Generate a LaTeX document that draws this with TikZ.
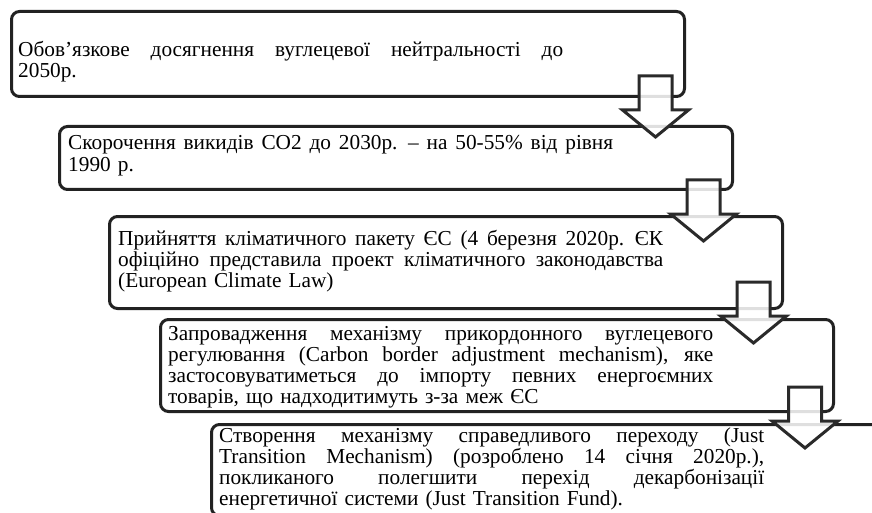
\documentclass[tikz,border=0pt]{standalone}
\usepackage{fontspec}
\setmainfont{Liberation Serif}
\newcommand\jl[1]{\leavevmode\hbox to 545pt{\spaceskip=\fontdimen2\font plus 1fil minus \fontdimen4\font\relax #1}}
\definecolor{boxc}{HTML}{222222}
\definecolor{arrc}{HTML}{2A2A2A}
\tikzset{
  stage/.style={draw=boxc, line width=3pt, rounded corners=8pt, anchor=north west,
    minimum width=673pt, inner sep=0pt},
  txt/.style={anchor=base west, inner sep=0pt, text width=545pt,
    font=\fontsize{21.3}{21}\selectfont},
  blockarrow/.style={draw=arrc, line width=3pt, fill=white, fill opacity=0.86,
    line join=miter},
}
\newcommand\downarrowshape[1]{%
  \draw[blockarrow] (#1) ++(-16.5,0) -- ++(0,34) -- ++(-16.5,0) -- ++(33,27)
    -- ++(33,-27) -- ++(-16.5,0) -- ++(0,-34) -- cycle;}
\begin{document}
\begin{tikzpicture}[x=1pt,y=-1pt]
\useasboundingbox (0,0) rectangle (872,513);
\fill[white] (0,0) rectangle (872,513);
\clip (0,0) rectangle (872,513);
% boxes
\node[stage, minimum height=85pt] (b1) at (10,10) {};
\node[stage, minimum height=63pt] (b2) at (58,125) {};
\node[stage, minimum height=92pt] (b3) at (108,215) {};
\node[stage, minimum height=92pt] (b4) at (159,318) {};
\node[stage, minimum height=91.2pt] (b5) at (210,423) {};
% texts
\node[txt] (t1) at (18,57) {\jl{Обов’язкове досягнення вуглецевої нейтральності до}\\2050р.};
\node[txt] (t2) at (68,150) {\jl{Скорочення викидів СО2 до 2030р. – на 50-55\% від рівня}\\1990 р.};
\node[txt] (t3) at (118,245) {\jl{Прийняття кліматичного пакету ЄС (4 березня 2020р. ЄК}\\
  \jl{офіційно представила проект кліматичного законодавства}\\(European Climate Law)};
\node[txt] (t4) at (168,340) {\jl{Запровадження механізму прикордонного вуглецевого}\\
  \jl{регулювання (Carbon border adjustment mechanism), яке}\\
  \jl{застосовуватиметься до імпорту певних енергоємних}\\
  товарів, що надходитимуть з-за меж ЄС};
\node[txt] (t5) at (219,442) {\jl{Створення механізму справедливого переходу (Just}\\
  \jl{Transition Mechanism) (розроблено 14 січня 2020р.),}\\
  \jl{покликаного полегшити перехід декарбонізації}\\
  енергетичної системи (Just Transition Fund).};
% arrows
\coordinate (a1) at ([xshift=-30.5pt,yshift=22pt]b1.south east);
\coordinate (a2) at ([xshift=-30.5pt,yshift=11pt]b2.south east);
\coordinate (a3) at ([xshift=-30.5pt,yshift=28pt]b3.south east);
\coordinate (a4) at ([xshift=-30pt,yshift=26pt]b4.south east);
\downarrowshape{a1}
\downarrowshape{a2}
\downarrowshape{a3}
\downarrowshape{a4}
\end{tikzpicture}
\end{document}
